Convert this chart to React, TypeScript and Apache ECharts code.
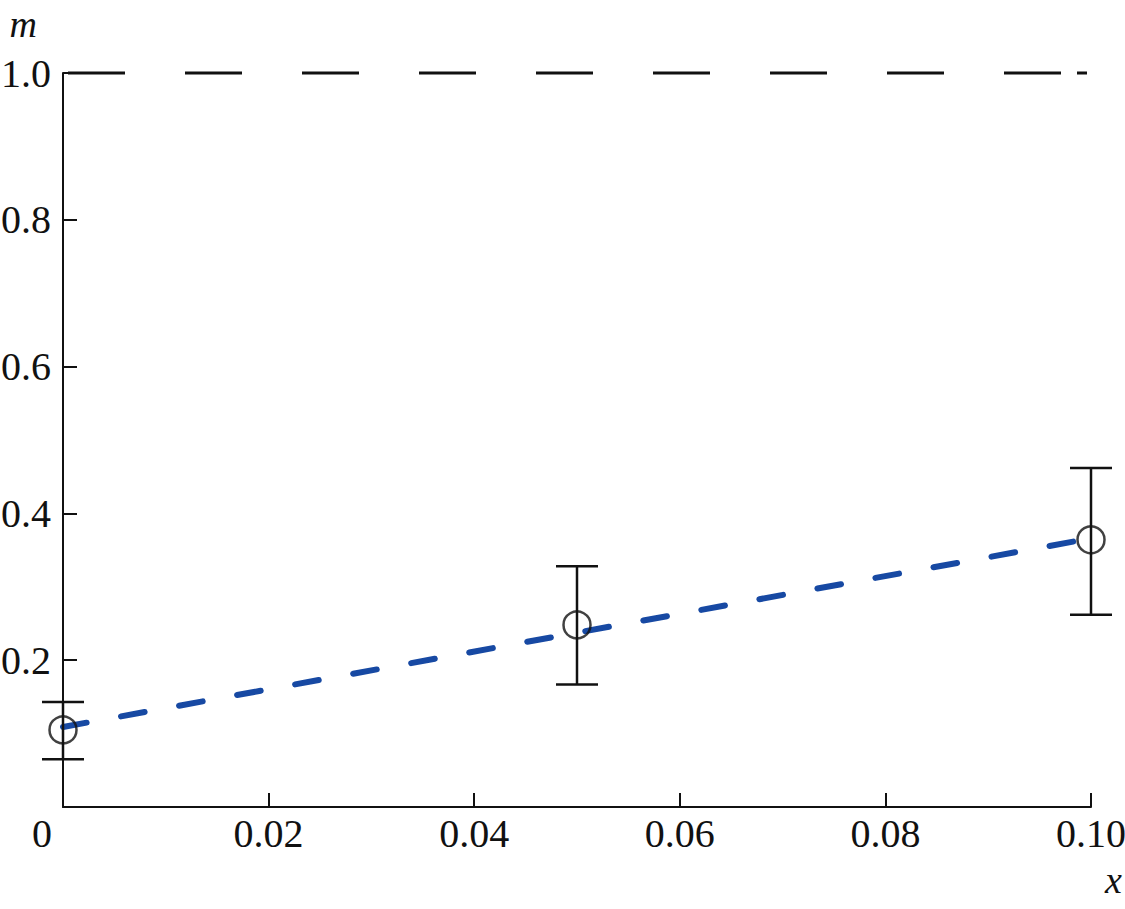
import React, { useEffect, useRef } from "react";
import * as echarts from "echarts";

const xTicks = [0, 0.02, 0.04, 0.06, 0.08, 0.1];
const yTicks = [0, 0.2, 0.4, 0.6, 0.8, 1.0];
const pointX = [0, 0.05, 0.1];
const pointM = [0.105, 0.248, 0.364];
const errLow = [0.065, 0.167, 0.262];
const errHigh = [0.143, 0.328, 0.462];
const fitX = [0, 0.1];
const fitM = [0.109, 0.366];
const refX = [0, 0.1];
const refM = [1.0, 1.0];

const FONT = "'Liberation Serif', 'Times New Roman', serif";

// dash pattern of the reference line at m = 1
const refDash: number[] = [0, 5];
for (let i = 0; i < 8; i++) refDash.push(57, 60);
refDash.push(57, 16, 10, 200);

export default function App() {
  const ref = useRef<HTMLDivElement>(null);
  useEffect(() => {
    if (!ref.current) return;
    const chart = echarts.init(ref.current, null, { renderer: "svg" });
    const option: any = {
      animation: false,
      backgroundColor: "#ffffff",
      grid: { left: 63, right: 34, top: 73, bottom: 102, containLabel: false, outerBoundsMode: "none" },
      xAxis: {
        type: "value",
        min: xTicks[0],
        max: xTicks[xTicks.length - 1],
        interval: 0.02,
        name: "x",
        nameLocation: "end",
        nameGap: 14,
        nameTextStyle: {
          fontFamily: FONT,
          fontStyle: "italic",
          fontSize: 38,
          color: "#111",
          align: "left",
          verticalAlign: "top",
          padding: [54, 0, 0, 0],
        },
        axisLine: { lineStyle: { color: "#111", width: 2 } },
        axisTick: { inside: true, length: 14, lineStyle: { color: "#111", width: 2 } },
        splitLine: { show: false },
        axisLabel: {
          margin: 6,
          fontFamily: FONT,
          fontSize: 40,
          color: "#111",
          formatter: (v: number) => (v === 0 ? "{z|0}" : v.toFixed(2)),
          rich: { z: { fontFamily: FONT, fontSize: 40, color: "#111", padding: [0, 42, 0, 0] } },
        },
      },
      yAxis: {
        type: "value",
        min: yTicks[0],
        max: yTicks[yTicks.length - 1],
        interval: 0.2,
        name: "m",
        nameLocation: "end",
        nameGap: 30,
        nameTextStyle: {
          fontFamily: FONT,
          fontStyle: "italic",
          fontSize: 38,
          color: "#111",
          align: "right",
          padding: [0, 26, 0, 0],
        },
        axisLine: { show: true, lineStyle: { color: "#111", width: 2 } },
        axisTick: { show: true, inside: true, length: 14, lineStyle: { color: "#111", width: 2 } },
        splitLine: { show: false },
        axisLabel: {
          margin: 12,
          fontFamily: FONT,
          fontSize: 40,
          color: "#111",
          formatter: (v: number) => (v === 0 ? "" : v.toFixed(1)),
        },
      },
      series: [
        {
          type: "line",
          data: refX.map((x, i) => [x, refM[i]]),
          symbol: "none",
          silent: true,
          clip: false,
          lineStyle: { color: "#111", width: 3, type: refDash },
        },
        {
          type: "line",
          data: fitX.map((x, i) => [x, fitM[i]]),
          symbol: "none",
          silent: true,
          clip: false,
          z: 3,
          lineStyle: { color: "#1749a3", width: 6, type: [24, 35], cap: "round" },
        },
        {
          type: "custom",
          clip: false,
          z: 4,
          data: pointX.map((x, i) => [x, errLow[i], errHigh[i]]),
          renderItem: (params: any, api: any) => {
            const x = api.value(0);
            const lo = api.coord([x, api.value(1)]);
            const hi = api.coord([x, api.value(2)]);
            const hw = 21;
            const style = { stroke: "#111", lineWidth: 2.5 };
            return {
              type: "group",
              children: [
                { type: "line", shape: { x1: hi[0], y1: hi[1], x2: lo[0], y2: lo[1] }, style },
                { type: "line", shape: { x1: hi[0] - hw, y1: hi[1], x2: hi[0] + hw, y2: hi[1] }, style },
                { type: "line", shape: { x1: lo[0] - hw, y1: lo[1], x2: lo[0] + hw, y2: lo[1] }, style },
              ],
            };
          },
        },
        {
          type: "scatter",
          clip: false,
          z: 5,
          data: pointX.map((x, i) => [x, pointM[i]]),
          symbol: "circle",
          symbolSize: 27,
          itemStyle: { color: "rgba(0,0,0,0)", borderColor: "#111", borderWidth: 2.5 },
        },
      ],
    };
    chart.setOption(option);
    return () => chart.dispose();
  }, []);
  return (
    <div
      ref={ref}
      style={{ position: "absolute", left: 0, top: 0, width: 1125, height: 909, background: "#fff" }}
    />
  );
}
